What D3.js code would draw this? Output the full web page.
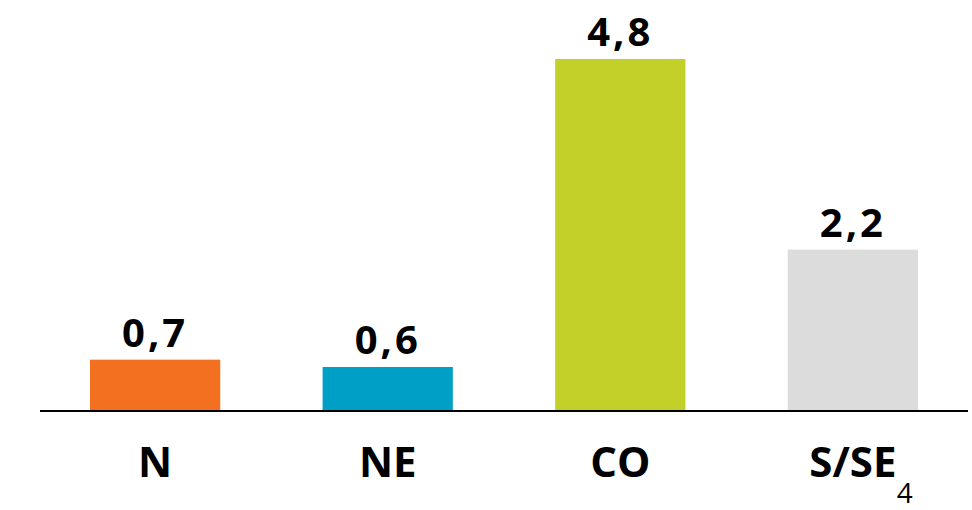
<!DOCTYPE html>
<html><head><meta charset="utf-8">
<script src="https://cdn.jsdelivr.net/npm/d3@7"></script>
<style>body{margin:0;background:#fff}svg{display:block}</style>
</head><body>
<svg id="c" width="972" height="510"></svg>
<script>
const categories = ["N", "NE", "CO", "S/SE"];
const values = [0.7, 0.6, 4.8, 2.2];
const valueLabels = ["0,7", "0,6", "4,8", "2,2"];
const colors = ["#F37021", "#00A0C6", "#C3D02A", "#DCDCDC"];
const footnote = "4";

const svg = d3.select("#c");
const baseY = 411;
const x = d3.scaleBand().domain(categories).range([40, 968]).paddingInner(0.44).paddingOuter(0.215);
const y = d3.scaleLinear().domain([0, 4.8]).range([baseY, 59]);
const font = "'Open Sans', sans-serif";

svg.selectAll("rect.bar").data(categories).join("rect")
  .attr("class", "bar")
  .attr("x", d => x(d)).attr("width", x.bandwidth())
  .attr("y", (d, i) => y(values[i])).attr("height", (d, i) => baseY - y(values[i]))
  .attr("fill", (d, i) => colors[i]);

svg.selectAll("text.val").data(categories).join("text")
  .attr("class", "val")
  .attr("x", d => x(d) + x.bandwidth() / 2)
  .attr("y", (d, i) => y(values[i]) - 13)
  .attr("text-anchor", "middle")
  .attr("font-family", font).attr("font-weight", "bold").attr("font-size", 40)
  .attr("letter-spacing", 3)
  .attr("fill", "#000")
  .text((d, i) => valueLabels[i]);

const axis = d3.axisBottom(x).tickSize(0).tickPadding(36);
const g = svg.append("g").attr("transform", `translate(0,${baseY})`).call(axis);
g.select(".domain").attr("d", "M40,0H968").attr("stroke", "#000").attr("stroke-width", 2);
g.selectAll(".tick text")
  .attr("font-family", font).attr("font-weight", "bold").attr("font-size", 42)
  .attr("fill", "#000").attr("dy", "0.71em");

svg.append("text")
  .attr("x", x("S/SE") + x.bandwidth() / 2 + 44).attr("y", 503)
  .attr("font-family", font).attr("font-size", 28).attr("fill", "#000")
  .text(footnote);
</script>
</body></html>
